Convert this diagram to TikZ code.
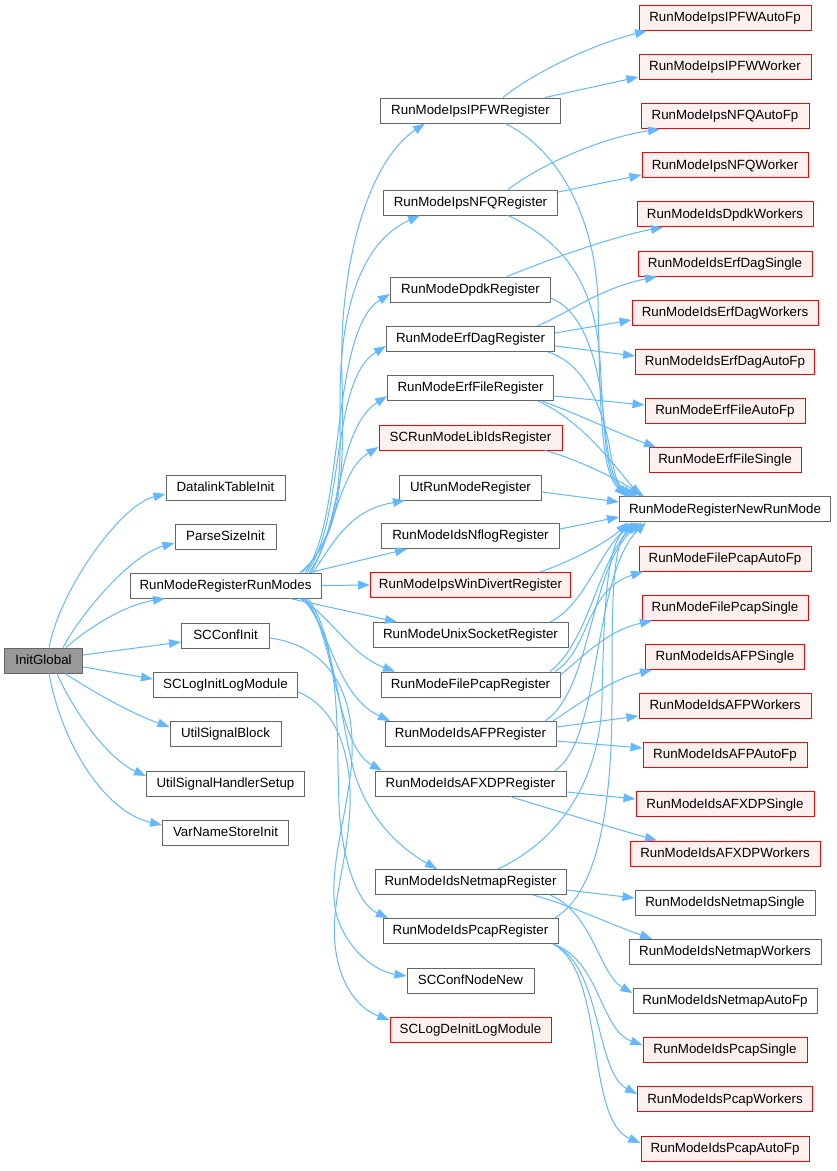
\documentclass[tikz,border=0pt]{standalone}
\usepackage{fontspec}
\setmainfont{Liberation Sans}
\usetikzlibrary{arrows.meta}
\newlength{\pxu}\setlength{\pxu}{0.75pt}
\definecolor{edgec}{HTML}{63B8FF}
\definecolor{gbord}{HTML}{666666}
\definecolor{rfill}{HTML}{FFF0F0}
\definecolor{rootf}{HTML}{999999}
\begin{document}
\begin{tikzpicture}[x=0.75pt,y=-0.75pt,
  box/.style={rectangle, line width=0.75pt, minimum height=25\pxu, inner xsep=1pt, inner ysep=0pt,
    font=\fontsize{10pt}{12pt}\selectfont, text height=7.2pt, text depth=1.6pt},
  gn/.style={box, draw=gbord, fill=white},
  rn/.style={box, draw=red, fill=rfill},
  rootn/.style={box, draw=gbord, fill=rootf},
  e/.style={draw=edgec, line width=0.75pt, -{Triangle[length=9pt,width=6.5pt]}},
]
\fill[white] (0,0) rectangle (836,1171);
\useasboundingbox (0,0) rectangle (836,1171);

% column 0
\node[rootn, minimum width=78\pxu] (ig) at (43.5,660.5) {InitGlobal};
% column 1
\node[gn, minimum width=119\pxu] (dti) at (225.5,487.5) {DatalinkTableInit};
\node[gn, minimum width=101\pxu] (psi) at (225.5,536.5) {ParseSizeInit};
\node[gn, minimum width=191\pxu] (rrm) at (225.5,585.5) {RunModeRegisterRunModes};
\node[gn, minimum width=88\pxu] (sci) at (225.5,635.5) {SCConfInit};
\node[gn, minimum width=144\pxu] (sll) at (225.5,684.5) {SCLogInitLogModule};
\node[gn, minimum width=111\pxu] (usb) at (225.5,733.5) {UtilSignalBlock};
\node[gn, minimum width=158\pxu] (ush) at (225.5,783.5) {UtilSignalHandlerSetup};
\node[gn, minimum width=126\pxu] (vns) at (225.5,832.5) {VarNameStoreInit};
% column 2
\node[gn, minimum width=180\pxu] (ipfw) at (470.5,110.5) {RunModeIpsIPFWRegister};
\node[gn, minimum width=174\pxu] (nfq) at (470.5,202.5) {RunModeIpsNFQRegister};
\node[gn, minimum width=160\pxu] (dpdk) at (470.5,289.5) {RunModeDpdkRegister};
\node[gn, minimum width=168\pxu] (erfdag) at (470.5,339) {RunModeErfDagRegister};
\node[gn, minimum width=166\pxu] (erffile) at (470.5,388) {RunModeErfFileRegister};
\node[rn, minimum width=183\pxu] (libids) at (470.5,437.5) {SCRunModeLibIdsRegister};
\node[gn, minimum width=142\pxu] (ut) at (470.5,487.5) {UtRunModeRegister};
\node[gn, minimum width=178\pxu] (nflog) at (470.5,536) {RunModeIdsNflogRegister};
\node[rn, minimum width=200\pxu] (windiv) at (470.5,585) {RunModeIpsWinDivertRegister};
\node[gn, minimum width=195\pxu] (unix) at (470.5,635) {RunModeUnixSocketRegister};
\node[gn, minimum width=179\pxu] (fpcap) at (470.5,684.5) {RunModeFilePcapRegister};
\node[gn, minimum width=171\pxu] (afp) at (470.5,734) {RunModeIdsAFPRegister};
\node[gn, minimum width=191\pxu] (afxdp) at (470.5,783.5) {RunModeIdsAFXDPRegister};
\node[gn, minimum width=191\pxu] (netmap) at (470.5,882) {RunModeIdsNetmapRegister};
\node[gn, minimum width=175\pxu] (pcap) at (470.5,931) {RunModeIdsPcapRegister};
\node[gn, minimum width=127\pxu] (cnn) at (470.5,980.5) {SCConfNodeNew};
\node[rn, minimum width=161\pxu] (sldi) at (470.5,1030) {SCLogDeInitLogModule};
% column 3
\node[rn, minimum width=172\pxu] (ipfwauto) at (725,17.8) {RunModeIpsIPFWAutoFp};
\node[rn, minimum width=172\pxu] (ipfwwork) at (725,67.0) {RunModeIpsIPFWWorker};
\node[rn, minimum width=168\pxu] (nfqauto) at (725,116.1) {RunModeIpsNFQAutoFp};
\node[rn, minimum width=166\pxu] (nfqwork) at (725,165.3) {RunModeIpsNFQWorker};
\node[rn, minimum width=176\pxu] (dpdkw) at (725,214.4) {RunModeIdsDpdkWorkers};
\node[rn, minimum width=174\pxu] (erfds) at (725,263.6) {RunModeIdsErfDagSingle};
\node[rn, minimum width=186\pxu] (erfdw) at (725,312.8) {RunModeIdsErfDagWorkers};
\node[rn, minimum width=179\pxu] (erfda) at (725,361.9) {RunModeIdsErfDagAutoFp};
\node[rn, minimum width=160\pxu] (erffa) at (725,411.1) {RunModeErfFileAutoFp};
\node[rn, minimum width=152\pxu] (erffs) at (725,460.2) {RunModeErfFileSingle};
\node[gn, minimum width=211\pxu] (regnew) at (725,509.4) {RunModeRegisterNewRunMode};
\node[rn, minimum width=172\pxu] (fpa) at (725,558.6) {RunModeFilePcapAutoFp};
\node[rn, minimum width=166\pxu] (fps) at (725,607.7) {RunModeFilePcapSingle};
\node[rn, minimum width=159\pxu] (afps) at (725,656.9) {RunModeIdsAFPSingle};
\node[rn, minimum width=172\pxu] (afpw) at (725,706.0) {RunModeIdsAFPWorkers};
\node[rn, minimum width=164\pxu] (afpa) at (725,755.2) {RunModeIdsAFPAutoFp};
\node[rn, minimum width=178\pxu] (afxs) at (725,804.4) {RunModeIdsAFXDPSingle};
\node[rn, minimum width=190\pxu] (afxw) at (725,853.5) {RunModeIdsAFXDPWorkers};
\node[gn, minimum width=180\pxu] (nms) at (725,902.7) {RunModeIdsNetmapSingle};
\node[gn, minimum width=192\pxu] (nmw) at (725,951.8) {RunModeIdsNetmapWorkers};
\node[gn, minimum width=184\pxu] (nma) at (725,1001.0) {RunModeIdsNetmapAutoFp};
\node[rn, minimum width=164\pxu] (pcs) at (725,1050.2) {RunModeIdsPcapSingle};
\node[rn, minimum width=175\pxu] (pcw) at (725,1099.3) {RunModeIdsPcapWorkers};
\node[rn, minimum width=168\pxu] (pca) at (725,1148.5) {RunModeIdsPcapAutoFp};

% InitGlobal edges
\draw[e] (ig.north -| 49,0) .. controls (60,590) and (120,505) .. (dti.west |- 0,494);
\draw[e] (ig.north -| 63,0) .. controls (80,615) and (130,555) .. (psi.west |- 0,543);
\draw[e] (ig.north -| 66,0) .. controls (95,622) and (130,604) .. (rrm.south -| 165,0);
\draw[e] (ig.east |- 0,655) -- (sci.west |- 0,642);
\draw[e] (ig.east |- 0,667) -- (sll.west |- 0,679);
\draw[e] (ig.south -| 65,0) .. controls (90,690) and (130,713) .. (usb.west |- 0,727);
\draw[e] (ig.south -| 57,0) .. controls (75,715) and (110,760) .. (ush.west |- 0,776);
\draw[e] (ig.south -| 49,0) .. controls (62,745) and (105,812) .. (vns.west |- 0,825);

% RunModeRegisterRunModes edges
\draw[e] (rrm.north -| 300,0) .. controls (340,540) and (345,480) .. (342,380) .. controls (338,260) and (370,160) .. (ipfw.south -| 425,0);
\draw[e] (rrm.north -| 302,0) .. controls (345,530) and (340,460) .. (340,400) .. controls (340,300) and (365,240) .. (nfq.south -| 420,0);
\draw[e] (rrm.north -| 305,0) .. controls (345,520) and (330,330) .. (dpdk.west |- 0,294);
\draw[e] (rrm.north -| 307,0) .. controls (345,520) and (330,380) .. (erfdag.west |- 0,346);
\draw[e] (rrm.north -| 309,0) .. controls (342,530) and (335,430) .. (erffile.west |- 0,396);
\draw[e] (rrm.north -| 311,0) .. controls (335,530) and (340,470) .. (libids.west |- 0,447);
\draw[e] (rrm.north -| 313,0) .. controls (335,540) and (350,510) .. (ut.south -| 405,0);
\draw[e] (rrm.north -| 310,0) -- (nflog.south -| 407,0);
\draw[e] (rrm.east) -- (windiv.west);
\draw[e] (rrm.south -| 290,0) -- (unix.north -| 397,0);
\draw[e] (rrm.south -| 300,0) .. controls (330,615) and (350,655) .. (fpcap.north -| 395,0);
\draw[e] (rrm.south -| 302,0) .. controls (330,625) and (335,695) .. (afp.north -| 390,0);
\draw[e] (rrm.south -| 304,0) .. controls (335,630) and (335,745) .. (afxdp.north -| 382,0);
\draw[e] (rrm.south -| 306,0) .. controls (335,640) and (340,720) .. (355,775) .. controls (370,820) and (400,848) .. (netmap.north -| 437,0);
\draw[e] (rrm.south -| 308,0) .. controls (345,650) and (335,760) .. (340,820) .. controls (345,870) and (360,905) .. (pcap.north -| 388,0);

% SCConfInit, SCLogInitLogModule
\draw[e] (sci.east |- 0,638) .. controls (320,645) and (350,680) .. (352,740) .. controls (355,800) and (320,880) .. (340,925) .. controls (355,958) and (380,972) .. (cnn.west |- 0,976);
\draw[e] (sll.east |- 0,692) .. controls (330,705) and (348,740) .. (350,790) .. controls (352,850) and (330,900) .. (335,945) .. controls (340,990) and (362,1010) .. (sldi.west |- 0,1020);

% column 2 -> column 3
\draw[e] (ipfw.north -| 503,0) .. controls (530,75) and (590,45) .. (ipfwauto.south -| 647,0);
\draw[e] (ipfw.north -| 545,0) -- (ipfwwork.west |- 0,77);
\draw[e] (ipfw.south -| 505,0) .. controls (560,150) and (595,220) .. (598,300) .. controls (600,400) and (600,470) .. (regnew.north -| 626,0);

\draw[e] (nfq.north -| 508,0) .. controls (540,165) and (600,138) .. (nfqauto.south -| 660,0);
\draw[e] (nfq.east |- 0,192) -- (nfqwork.west |- 0,175);
\draw[e] (nfq.south -| 508,0) .. controls (570,245) and (595,290) .. (600,360) .. controls (604,430) and (605,475) .. (regnew.north -| 629,0);

\draw[e] (dpdk.north -| 507,0) .. controls (560,255) and (620,235) .. (dpdkw.south -| 663,0);
\draw[e] (dpdk.east |- 0,298) .. controls (580,310) and (595,350) .. (602,400) .. controls (607,450) and (610,480) .. (regnew.north -| 633,0);

\draw[e] (erfdag.north -| 537,0) .. controls (565,315) and (600,288) .. (erfds.south -| 657,0);
\draw[e] (erfdag.east |- 0,333) -- (erfdw.west |- 0,320);
\draw[e] (erfdag.east |- 0,346) -- (erfda.west |- 0,356);
\draw[e] (erfdag.south -| 548,0) .. controls (590,365) and (605,420) .. (610,450) .. controls (615,480) and (620,490) .. (regnew.north -| 637,0);

\draw[e] (erffile.east |- 0,396) -- (erffa.west |- 0,405);
\draw[e] (erffile.south -| 542,0) .. controls (580,415) and (615,432) .. (erffs.north -| 656,0);
\draw[e] (erffile.south -| 538,0) .. controls (580,420) and (612,462) .. (regnew.north -| 640,0);

\draw[e] (libids.south -| 545,0) .. controls (580,460) and (618,480) .. (regnew.north -| 644,0);
\draw[e] (ut.east |- 0,492) -- (regnew.west |- 0,502);
\draw[e] (nflog.east |- 0,529) -- (regnew.west |- 0,517);
\draw[e] (windiv.north -| 540,0) .. controls (575,560) and (610,540) .. (regnew.south -| 628,0);
\draw[e] (unix.north -| 550,0) .. controls (585,605) and (600,550) .. (regnew.south -| 634,0);

\draw[e] (fpcap.north -| 555,0) .. controls (590,650) and (585,590) .. (fpa.south -| 643,0);
\draw[e] (fpcap.east |- 0,675) .. controls (590,650) and (610,630) .. (fps.south -| 652,0);
\draw[e] (fpcap.north -| 550,0) .. controls (590,640) and (598,560) .. (regnew.south -| 638,0);

\draw[e] (afp.north -| 553,0) .. controls (585,700) and (610,680) .. (afps.south -| 652,0);
\draw[e] (afp.east |- 0,727) -- (afpw.west |- 0,716);
\draw[e] (afp.east |- 0,741) -- (afpa.west |- 0,748);
\draw[e] (afp.north -| 545,0) .. controls (592,690) and (590,565) .. (regnew.south -| 642,0);

\draw[e] (afxdp.east |- 0,792) -- (afxs.west |- 0,799);
\draw[e] (afxdp.south -| 510,0) .. controls (560,812) and (620,830) .. (afxw.north -| 657,0);
\draw[e] (afxdp.north -| 555,0) .. controls (602,740) and (592,575) .. (regnew.south -| 646,0);

\draw[e] (netmap.east |- 0,890) -- (nms.west |- 0,898);
\draw[e] (netmap.south -| 533,0) .. controls (570,905) and (612,925) .. (nmw.north -| 652,0);
\draw[e] (netmap.south -| 550,0) .. controls (592,912) and (600,975) .. (nma.west |- 0,993);
\draw[e] (netmap.north -| 498,0) .. controls (560,840) and (600,780) .. (602,700) .. controls (604,610) and (606,548) .. (regnew.south -| 632,0);

\draw[e] (pcap.south -| 553,0) .. controls (600,960) and (600,1030) .. (pcs.west |- 0,1045);
\draw[e] (pcap.south -| 553,0) .. controls (602,965) and (595,1072) .. (pcw.west |- 0,1094);
\draw[e] (pcap.south -| 553,0) .. controls (606,972) and (585,1120) .. (pca.west |- 0,1143);
\draw[e] (pcap.north -| 555,0) .. controls (600,890) and (612,800) .. (612,700) .. controls (612,600) and (612,545) .. (regnew.south -| 636,0);
\end{tikzpicture}
\end{document}
